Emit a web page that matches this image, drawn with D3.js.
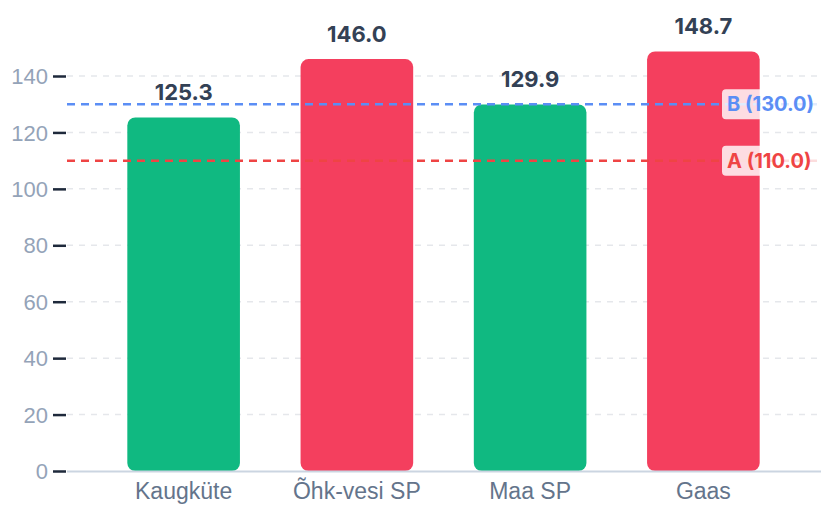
<!DOCTYPE html>
<html lang="en">
<head>
    <meta charset="UTF-8">
    <title>Küte</title>
    <script src="https://d3js.org/d3.v7.min.js"></script>
    <style>
        body { margin: 0; background: #fff; font-family: Inter, "Noto Sans", sans-serif; }
        .grid line { stroke: #e5e7eb; stroke-dasharray: 6 6; stroke-width: 1.5; }
        .tick-label { fill: #94a3b8; font-size: 22px; }
        .x-label { fill: #64748b; font-size: 23px; font-family: "Liberation Sans", Arial, sans-serif; }
        .value { fill: #334155; font-size: 22px; font-weight: 700; }
    </style>
</head>
<body>
    <div id="chart"></div>
    <script>
        const categories = ["Kaugküte", "Õhk-vesi SP", "Maa SP", "Gaas"];
        const values = [125.3, 146.0, 129.9, 148.7];
        const barColors = ["#10b981", "#f43f5e", "#10b981", "#f43f5e"];
        const yTicks = [0, 20, 40, 60, 80, 100, 120, 140];
        const refNames = ["B", "A"];
        const refValues = [130.0, 110.0];
        const refColors = ["#5b8ef5", "#ef4444"];

        const width = 821, height = 505;
        const svg = d3.select("#chart").append("svg")
            .attr("width", width)
            .attr("height", height);

        const x = d3.scaleBand()
            .domain(categories)
            .range([97, 790])
            .paddingInner(0.35)
            .paddingOuter(0.175);

        const y = d3.scaleLinear()
            .domain([0, 140])
            .range([471, 76]);

        const left = 67;

        // grid
        svg.append("g").attr("class", "grid")
            .selectAll("line")
            .data(yTicks.filter(d => d > 0))
            .join("line")
            .attr("x1", left).attr("x2", width)
            .attr("y1", d => y(d)).attr("y2", d => y(d));

        // y axis ticks
        const yAxis = svg.append("g")
            .attr("transform", `translate(${left},0)`)
            .call(d3.axisLeft(y).tickValues(yTicks).tickSize(12).tickPadding(6));
        yAxis.select(".domain").remove();
        yAxis.selectAll(".tick line").attr("stroke", "#1e293b").attr("stroke-width", 2.5)
            .attr("x2", -14).attr("x1", -1);
        yAxis.selectAll(".tick text").attr("class", "tick-label")
            .attr("x", -19)
            .attr("dy", "0.35em")
            .style("font-family", "'Liberation Sans', Arial, sans-serif");

        // bars
        svg.selectAll(".bar")
            .data(categories)
            .join("rect")
            .attr("class", "bar")
            .attr("x", d => x(d))
            .attr("width", x.bandwidth())
            .attr("y", (d, i) => y(values[i]))
            .attr("height", (d, i) => y(0) - y(values[i]))
            .attr("rx", 8)
            .attr("fill", (d, i) => barColors[i]);

        // baseline
        svg.append("line")
            .attr("x1", left).attr("x2", width)
            .attr("y1", y(0) + 0.5).attr("y2", y(0) + 0.5)
            .attr("stroke", "#cbd5e1").attr("stroke-width", 2);

        // x labels
        svg.selectAll(".x-label")
            .data(categories)
            .join("text")
            .attr("class", "x-label")
            .attr("x", d => x(d) + x.bandwidth() / 2)
            .attr("y", 499)
            .attr("text-anchor", "middle")
            .text(d => d);

        // value labels
        svg.selectAll(".value")
            .data(categories)
            .join("text")
            .attr("class", "value")
            .attr("x", d => x(d) + x.bandwidth() / 2)
            .attr("y", (d, i) => y(values[i]) - 17)
            .attr("text-anchor", "middle")
            .text((d, i) => values[i].toFixed(1));

        // reference lines
        const refs = svg.selectAll(".ref")
            .data(refValues)
            .join("g")
            .attr("class", "ref");
        refs.append("line")
            .attr("x1", left).attr("x2", width)
            .attr("y1", d => y(d)).attr("y2", d => y(d))
            .attr("stroke", (d, i) => refColors[i])
            .attr("stroke-width", 2.5)
            .attr("stroke-dasharray", "8 6");
        refs.append("rect")
            .attr("x", 722).attr("width", 110)
            .attr("y", d => y(d) - 15).attr("height", 30)
            .attr("rx", 4)
            .attr("fill", "rgba(255,255,255,0.82)");
        refs.append("text")
            .attr("x", 727)
            .attr("y", d => y(d) + 7)
            .attr("fill", (d, i) => refColors[i])
            .style("font-size", "20px")
            .style("font-weight", 700)
            .text((d, i) => `${refNames[i]} (${d.toFixed(1)})`);
    </script>
</body>
</html>
